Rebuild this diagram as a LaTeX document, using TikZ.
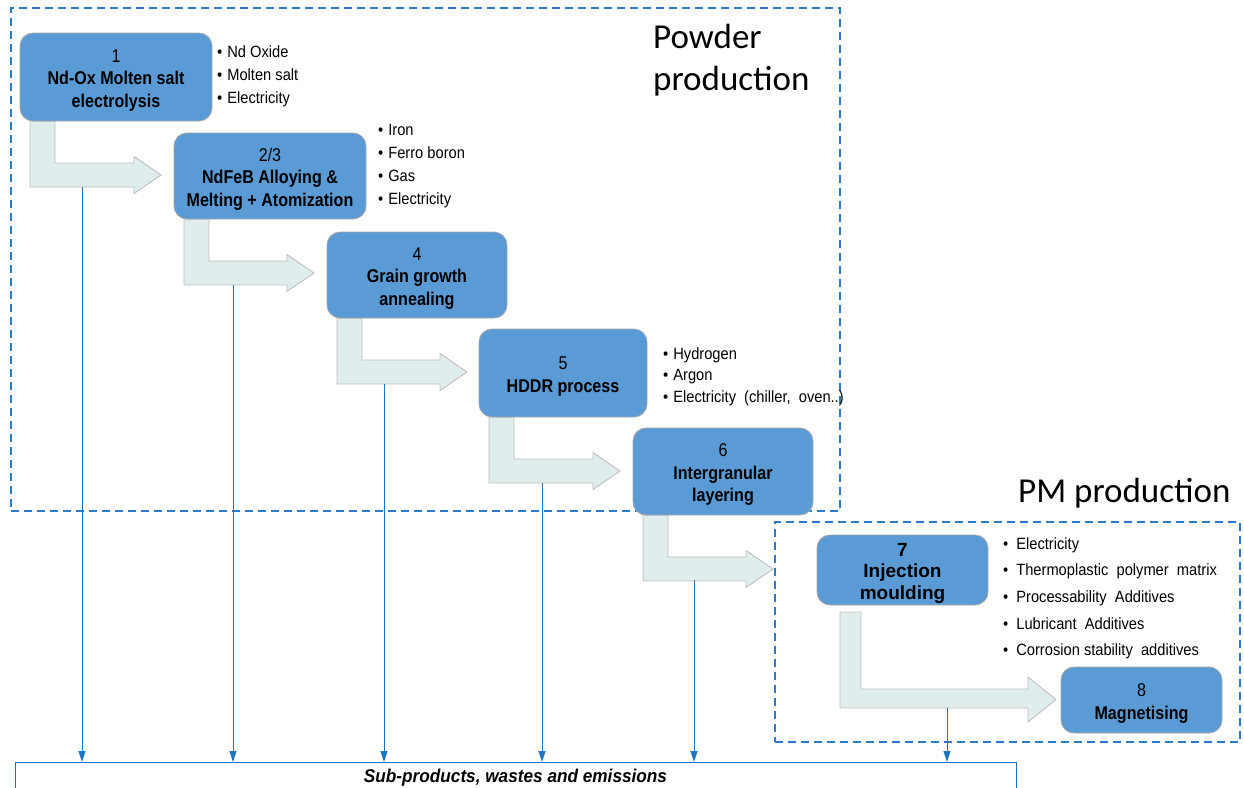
\documentclass[tikz,border=0pt]{standalone}
\usepackage{fontspec}
\setmainfont{Liberation Sans}
\newfontfamily\stepfont{Liberation Sans}[FakeStretch=0.87]
\newfontfamily\listfont{Liberation Sans}[FakeStretch=0.9]
\newfontfamily\wastefont{Liberation Sans}[FakeStretch=0.93]
\newfontfamily\zonefont{Carlito}
\usetikzlibrary{arrows.meta,calc}
\pgfdeclarelayer{background}
\pgfsetlayers{background,main}

\definecolor{boxblue}{HTML}{5B9BD5}
\definecolor{boxedge}{HTML}{A6A6A6}
\definecolor{bentfill}{HTML}{DFEDED}
\definecolor{bentedge}{HTML}{BFBFBF}
\definecolor{linkblue}{HTML}{1A74C4}
\definecolor{zoneblue}{HTML}{2C7BCB}

% tall invisible strut on the first line: sets the step texts a little lower
\newcommand\stepstrut{\rule{0pt}{19.5pt}}

% L-shaped block arrow leaving the lower left of #1 and pointing at #2 shifted by #3
\newcommand\bentarrow[3]{%
  \path[bent] let \p1=(#1.south west), \p2=($(#2)+(#3,0)$) in
    ({\x1+10pt},\y1) -- ({\x1+10pt},{\y1-66pt}) -- ({\x2-27pt},{\y1-66pt})
    -- ({\x2-27pt},{\y1-72.5pt}) -- (\x2,{\y1-54pt}) -- ({\x2-27pt},{\y1-35.5pt})
    -- ({\x2-27pt},{\y1-42pt}) -- ({\x1+35pt},{\y1-42pt}) -- ({\x1+35pt},\y1) -- cycle;%
}

\begin{document}
\begin{tikzpicture}[x=1pt,y=-1pt,
  stepbox/.style={draw=boxedge, line width=0.8pt, fill=boxblue, rounded corners=13pt,
    align=center, inner sep=0pt, outer sep=0pt,
    font=\stepfont\fontsize{18.5}{22.5}\selectfont},
  bent/.style={fill=bentfill, draw=bentedge, line width=0.9pt},
  item/.style={anchor=base west, inner sep=0pt, font=\listfont\fontsize{16.3}{20}\selectfont},
  zone/.style={draw=zoneblue, line width=1.8pt, dash pattern=on 8pt off 5pt,
    inner sep=0pt, outer sep=0pt, anchor=north west},
  zonelabel/.style={anchor=base west, inner sep=0pt, font=\zonefont\fontsize{35}{42}\selectfont},
  drop/.style={draw=linkblue, line width=0.9pt, -{Triangle[width=7pt,length=11pt]}},
]
\useasboundingbox (0,0) rectangle (1244,787);

% process zones
\node[zone, minimum width=829pt, minimum height=503pt] (powder) at (11,8) {};
\node[zone, minimum width=465pt, minimum height=220pt] (pm) at (775,522) {};
\node[zonelabel] (powderlbl1) at (653,48) {Powder};
\node[zonelabel] (powderlbl2) at (653,90) {production};
\node[zonelabel] (pmlbl) at (1018,502) {PM production};

% process steps
\node[stepbox, minimum width=192pt, minimum height=88pt] (b1) at (116,77)
  {\stepstrut 1\\\textbf{Nd-Ox Molten salt}\\\textbf{electrolysis}};
\node[stepbox, minimum width=192pt, minimum height=86pt] (b2) at (270,176)
  {\stepstrut 2/3\\\textbf{NdFeB Alloying \&}\\\textbf{Melting + Atomization}};
\node[stepbox, minimum width=180pt, minimum height=86pt] (b4) at (417,275)
  {\stepstrut 4\\\textbf{Grain growth}\\\textbf{annealing}};
\node[stepbox, minimum width=168pt, minimum height=88pt] (b5) at (563,373)
  {\stepstrut 5\\\textbf{HDDR process}};
\node[stepbox, minimum width=180pt, minimum height=87pt] (b6) at (723,471.5)
  {\stepstrut 6\\\textbf{Intergranular}\\\textbf{layering}};
\node[stepbox, minimum width=171pt, minimum height=70pt,
  font=\fontsize{19}{21.5}\selectfont\bfseries] (b7) at (902.5,570)
  {\stepstrut 7\\Injection\\moulding};
\node[stepbox, minimum width=161pt, minimum height=66pt] (b8) at (1141.5,700)
  {\stepstrut 8\\\textbf{Magnetising}};

% block arrows between the steps, kept behind the step boxes
\begin{pgfonlayer}{background}
\bentarrow{b1}{b2.west}{-13}
\bentarrow{b2}{b4.west}{-13}
\bentarrow{b4}{b5.west}{-12}
\bentarrow{b5}{b6.west}{-13}
\bentarrow{b6}{pm.west}{-2}
\path[bent] let \p1=(b7.south west), \p2=($(b8.west)+(-5,0)$) in
  ({\x1+23pt},{\y1-7pt}) -- ({\x1+23pt},{\y1-103pt}) -- ({\x2-28pt},{\y1-103pt})
  -- ({\x2-28pt},{\y1-117pt}) -- (\x2,{\y1-94.5pt}) -- ({\x2-28pt},{\y1-72pt})
  -- ({\x2-28pt},{\y1-84pt}) -- ({\x1+44pt},{\y1-84pt}) -- ({\x1+44pt},{\y1-7pt}) -- cycle;
\end{pgfonlayer}

% inputs of each step
\foreach \t [count=\k] in {Nd Oxide, Molten salt, Electricity}
  \node[item] (in1-\k) at (217,{57+23*(\k-1)}) {\textbullet\hspace{5pt}\t};
\foreach \t [count=\k] in {Iron, Ferro boron, Gas, Electricity}
  \node[item] (in2-\k) at (378,{135+23.3*(\k-1)}) {\textbullet\hspace{5pt}\t};
\foreach \t [count=\k] in {Hydrogen, Argon, {Electricity\ \ (chiller,\ \ oven..)}}
  \node[item] (in5-\k) at (663,{359+21.5*(\k-1)}) {\textbullet\hspace{5pt}\t};
\foreach \t [count=\k] in {Electricity, Thermoplastic\ \ polymer\ \ matrix,
    Processability\ \ Additives, Lubricant\ \ Additives, Corrosion stability\ \ additives}
  \node[item] (in7-\k) at (1003,{549+26.7*(\k-1)}) {\textbullet\hspace{8pt}\t};

% sub-products collector
\node[draw=linkblue, line width=0.9pt, anchor=north west, inner sep=0pt, outer sep=0pt,
  minimum width=1001pt, minimum height=32pt,
  font=\wastefont\fontsize{18.5}{22}\selectfont\bfseries\itshape] (waste) at (15,762)
  {Sub-products, wastes and emissions};

\coordinate (d1) at (82,187);
\coordinate (d2) at (233,285);
\coordinate (d3) at (384,384);
\coordinate (d4) at (542,483);
\coordinate (d5) at (694,580);
\coordinate (d6) at (947,708);
\foreach \d in {d1,d2,d3,d4,d5,d6}
  \draw[drop] (\d) -- (\d |- waste.north);
\end{tikzpicture}
\end{document}
